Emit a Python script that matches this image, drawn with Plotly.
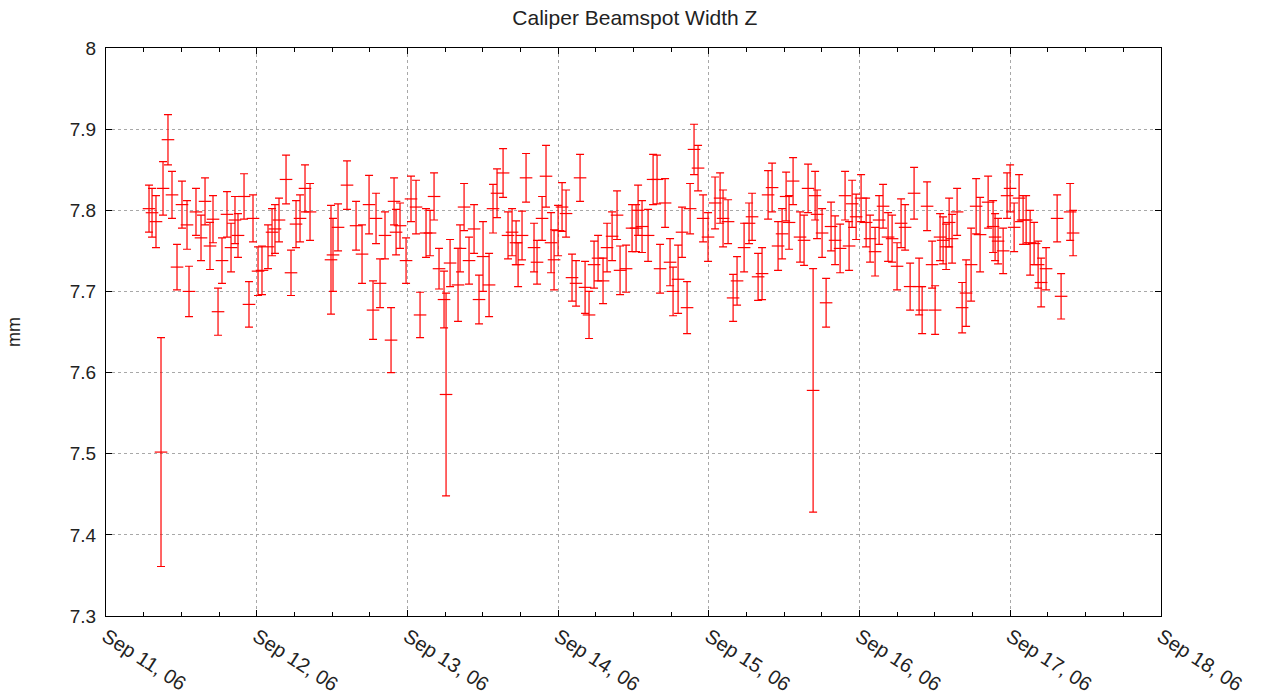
import pandas as pd
import plotly.graph_objects as go

# Measurement times, in hours after 2006-09-11 00:00
hours = [
    6.85, 7.33, 7.96, 8.76, 9.08, 9.87, 10.51, 11.31, 12.10, 12.90, 13.22, 14.33,
    15.13, 15.77, 16.56, 17.04, 17.84, 18.47, 19.27, 19.91, 20.54, 21.02, 21.98,
    22.77, 23.41, 24.21, 24.84, 25.80, 26.44, 26.91, 27.55, 28.67, 29.46, 30.26,
    30.90, 31.69, 32.49, 35.83, 36.15, 36.95, 38.38, 39.82, 40.77, 41.89, 42.52,
    43.00, 43.64, 44.43, 45.39, 45.87, 46.19, 46.82, 47.78, 48.57, 49.37, 50.01,
    50.96, 51.60, 52.24, 53.03, 53.83, 54.15, 54.79, 56.06, 56.38, 57.02, 57.81,
    58.61, 59.40, 60.04, 61.00, 61.63, 62.27, 63.23, 64.02, 64.66, 65.30, 65.62,
    66.25, 66.89, 68.16, 68.64, 69.44, 70.07, 70.87, 71.35, 71.99, 72.62, 73.26,
    74.21, 74.85, 75.49, 76.29, 76.92, 77.72, 78.36, 79.15, 79.79, 80.59, 81.38,
    81.86, 82.82, 83.77, 84.41, 84.73, 85.36, 86.32, 87.12, 87.75, 88.23, 89.03,
    89.82, 90.30, 91.10, 91.73, 92.53, 93.01, 93.64, 94.28, 95.08, 95.87, 96.99,
    97.79, 98.26, 99.06, 99.86, 100.49, 101.61, 102.40, 102.88, 103.84, 104.47,
    105.43, 106.07, 107.02, 107.66, 108.30, 108.77, 109.41, 110.52, 111.16,
    111.80, 112.60, 112.92, 113.23, 114.03, 114.67, 115.46, 116.10, 116.90,
    117.69, 118.33, 118.81, 119.45, 120.24, 121.04, 121.67, 122.47, 123.11,
    123.74, 124.54, 125.18, 125.97, 126.61, 127.25, 128.05, 128.68, 129.48,
    129.96, 130.75, 131.55, 132.03, 132.82, 133.30, 133.78, 134.26, 134.73,
    135.53, 136.33, 136.96, 137.76, 138.56, 139.19, 140.47, 141.26, 141.58,
    142.06, 142.86, 143.49, 143.97, 144.61, 145.40, 146.04, 146.52, 147.16,
    147.79, 148.43, 148.91, 149.70, 151.46, 152.09, 153.53, 154.00,
]

# Beamspot width Z (mm)
width_z = [
    7.802, 7.797, 7.786, 7.502, 7.827, 7.887, 7.819, 7.730, 7.807, 7.782, 7.700,
    7.798, 7.766, 7.811, 7.756, 7.789, 7.675, 7.738, 7.795, 7.754, 7.788, 7.769,
    7.817, 7.684, 7.790, 7.725, 7.726, 7.755, 7.773, 7.777, 7.788, 7.838, 7.723,
    7.783, 7.790, 7.827, 7.798, 7.739, 7.745, 7.779, 7.831, 7.781, 7.746, 7.807,
    7.677, 7.790, 7.710, 7.769, 7.640, 7.811, 7.773, 7.781, 7.738, 7.814, 7.804,
    7.671, 7.772, 7.772, 7.817, 7.728, 7.690, 7.573, 7.735, 7.708, 7.753, 7.804,
    7.738, 7.777, 7.690, 7.743, 7.708, 7.802, 7.821, 7.846, 7.769, 7.773, 7.760,
    7.733, 7.769, 7.840, 7.754, 7.736, 7.790, 7.842, 7.760, 7.739, 7.775, 7.804,
    7.796, 7.717, 7.710, 7.840, 7.705, 7.671, 7.733, 7.741, 7.713, 7.754, 7.768,
    7.794, 7.726, 7.728, 7.778, 7.778, 7.800, 7.780, 7.769, 7.838, 7.838, 7.728,
    7.809, 7.736, 7.700, 7.715, 7.773, 7.680, 7.802, 7.875, 7.852, 7.790, 7.767,
    7.809, 7.815, 7.790, 7.786, 7.692, 7.713, 7.754, 7.784, 7.792, 7.718, 7.722,
    7.819, 7.828, 7.756, 7.771, 7.817, 7.785, 7.836, 7.767, 7.763, 7.827, 7.578,
    7.818, 7.795, 7.772, 7.686, 7.780, 7.763, 7.753, 7.818, 7.756, 7.808, 7.792,
    7.815, 7.785, 7.765, 7.749, 7.788, 7.805, 7.767, 7.765, 7.731, 7.784, 7.779,
    7.706, 7.821, 7.706, 7.677, 7.805, 7.733, 7.677, 7.767, 7.763, 7.755, 7.785,
    7.765, 7.798, 7.680, 7.698, 7.733, 7.805, 7.770, 7.810, 7.780, 7.767, 7.762,
    7.750, 7.818, 7.827, 7.779, 7.815, 7.788, 7.788, 7.760, 7.759, 7.733, 7.711,
    7.728, 7.790, 7.694, 7.798, 7.772,
]

# Half-width of each error bar (mm)
width_err = [
    0.029, 0.030, 0.032, 0.141, 0.033, 0.031, 0.029, 0.028, 0.029, 0.030, 0.031,
    0.029, 0.028, 0.029, 0.029, 0.029, 0.029, 0.028, 0.028, 0.030, 0.029, 0.027,
    0.028, 0.028, 0.029, 0.030, 0.030, 0.027, 0.029, 0.030, 0.027, 0.030, 0.028,
    0.029, 0.029, 0.029, 0.035, 0.067, 0.045, 0.029, 0.030, 0.030, 0.036, 0.036,
    0.036, 0.031, 0.030, 0.029, 0.040, 0.029, 0.028, 0.028, 0.028, 0.028, 0.033,
    0.028, 0.030, 0.028, 0.029, 0.025, 0.035, 0.125, 0.029, 0.045, 0.029, 0.029,
    0.029, 0.030, 0.030, 0.043, 0.039, 0.030, 0.030, 0.030, 0.029, 0.029, 0.027,
    0.027, 0.030, 0.030, 0.030, 0.027, 0.027, 0.038, 0.037, 0.037, 0.031, 0.030,
    0.029, 0.029, 0.028, 0.029, 0.032, 0.029, 0.029, 0.028, 0.028, 0.030, 0.030,
    0.030, 0.030, 0.029, 0.029, 0.029, 0.031, 0.032, 0.032, 0.031, 0.030, 0.030,
    0.030, 0.029, 0.030, 0.042, 0.031, 0.032, 0.031, 0.031, 0.028, 0.029, 0.030,
    0.032, 0.031, 0.035, 0.027, 0.029, 0.030, 0.030, 0.025, 0.029, 0.029, 0.032,
    0.030, 0.030, 0.030, 0.031, 0.030, 0.033, 0.029, 0.031, 0.031, 0.030, 0.150,
    0.030, 0.030, 0.030, 0.030, 0.030, 0.030, 0.030, 0.030, 0.030, 0.029, 0.028,
    0.029, 0.030, 0.029, 0.030, 0.030, 0.027, 0.030, 0.029, 0.029, 0.030, 0.028,
    0.029, 0.032, 0.035, 0.029, 0.030, 0.029, 0.030, 0.029, 0.029, 0.028, 0.030,
    0.030, 0.029, 0.031, 0.041, 0.045, 0.034, 0.046, 0.032, 0.032, 0.029, 0.028,
    0.028, 0.028, 0.029, 0.030, 0.029, 0.030, 0.030, 0.040, 0.026, 0.029, 0.030,
    0.026, 0.029, 0.028, 0.035, 0.028,
]

start = pd.Timestamp("2006-09-11 00:00")
times = start + pd.to_timedelta(hours, unit="h")

x_start = "2006-09-11 00:00"
x_end = "2006-09-18 00:00"
y_ticks = [7.3, 7.4, 7.5, 7.6, 7.7, 7.8, 7.9, 8.0]
y_tick_text = ["7.3", "7.4", "7.5", "7.6", "7.7", "7.8", "7.9", "8"]

RED = "#ff0000"
TEXT = "#222222"
FONT = "Liberation Sans, Arial, sans-serif"

fig = go.Figure(
    go.Scatter(
        x=times,
        y=width_z,
        mode="markers",
        marker=dict(symbol="line-ew", size=9, color=RED,
                    line=dict(color=RED, width=1.2)),
        error_y=dict(type="data", array=width_err, visible=True,
                     color=RED, thickness=1.2, width=4),
        hoverinfo="x+y",
    )
)

fig.update_layout(
    width=1261,
    height=694,
    margin=dict(l=106, r=100, t=48, b=78),
    paper_bgcolor="white",
    plot_bgcolor="white",
    showlegend=False,
    font=dict(family=FONT, size=18, color=TEXT),
    title=dict(text="Caliper Beamspot Width Z", x=0.5035, xanchor="center",
               y=0.974, yanchor="middle", font=dict(size=21, color=TEXT)),
)

fig.update_xaxes(
    type="date",
    range=[x_start, x_end],
    dtick=86400000,
    tick0=x_start,
    tickformat="%b %d, %y",
    tickangle=33,
    ticks="inside",
    ticklen=6,
    tickcolor="black",
    showline=True,
    linecolor="black",
    linewidth=1,
    mirror="ticks",
    showgrid=True,
    gridcolor="#a8a8a8",
    griddash="dot",
    gridwidth=1,
    zeroline=False,
    automargin=False,
    tickfont=dict(size=20, color=TEXT),
    minor=dict(dtick=6 * 3600000, ticks="inside", ticklen=4,
               tickcolor="black", showgrid=False),
)

fig.update_yaxes(
    range=[7.3, 8.0],
    tickvals=y_ticks,
    ticktext=y_tick_text,
    ticks="inside",
    ticklen=6,
    tickcolor="black",
    showline=True,
    linecolor="black",
    linewidth=1,
    mirror="ticks",
    showgrid=True,
    gridcolor="#a8a8a8",
    griddash="dot",
    gridwidth=1,
    zeroline=False,
    automargin=False,
    ticklabelstandoff=5,
    tickfont=dict(size=19, color=TEXT),
    title=dict(text="mm", standoff=44, font=dict(size=18, color=TEXT)),
)

fig.write_html("out.html")
